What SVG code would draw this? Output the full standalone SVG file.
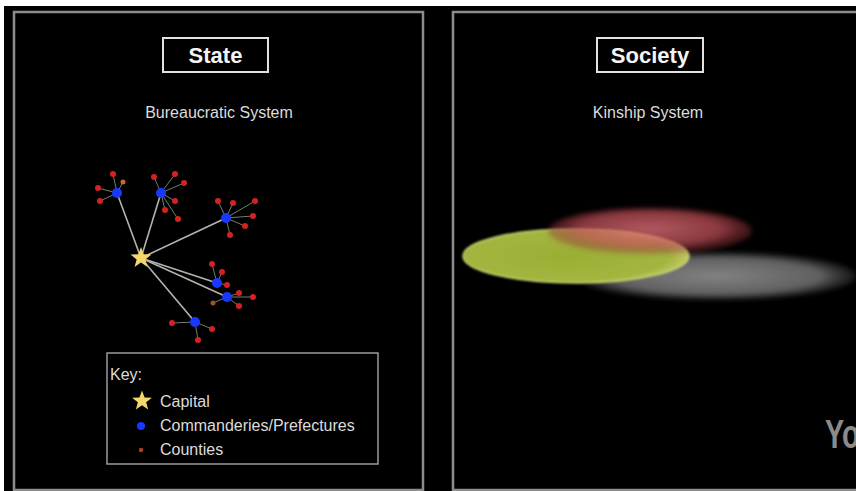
<svg xmlns="http://www.w3.org/2000/svg" width="856" height="491" viewBox="0 0 856 491">
<defs>
<style>
.panel{fill:none;stroke:#8c8c8c;stroke-width:2.5}
.tbox{fill:none;stroke:#e2e2e2;stroke-width:2}
.title{font-family:"Liberation Sans",Arial,sans-serif;font-weight:bold;font-size:22px;fill:#f4f4f4;text-anchor:middle}
.sub{font-family:"Liberation Sans",Arial,sans-serif;font-size:16px;fill:#dcdcdc;text-anchor:middle}
.key{font-family:"Liberation Sans",Arial,sans-serif;font-size:16px;fill:#dcdcdc}
.main{stroke:#b4b4ac;stroke-width:1.6}
.sec{stroke:#6f8068;stroke-width:1}
.blue{fill:#1838ff}
.red{fill:#d42222}
.star{fill:#f4d86c}
</style>
<path id="star" d="M0,-11 L2.7,-3.72 L10.46,-3.4 L4.37,1.42 L6.47,8.9 L0,4.6 L-6.47,8.9 L-4.37,1.42 L-10.46,-3.4 L-2.7,-3.72 Z"/>
<radialGradient id="gRed" cx="0.5" cy="0.45" r="0.5">
<stop offset="0" stop-color="#e07078" stop-opacity="1"/>
<stop offset="0.7" stop-color="#c05058" stop-opacity="0.9"/>
<stop offset="1" stop-color="#903038" stop-opacity="0.5"/>
</radialGradient>
<radialGradient id="gGray" cx="0.5" cy="0.5" r="0.5">
<stop offset="0" stop-color="#828282"/>
<stop offset="0.75" stop-color="#606060"/>
<stop offset="1" stop-color="#3a3a3a" stop-opacity="0.4"/>
</radialGradient>
<radialGradient id="gYel" cx="0.45" cy="0.5" r="0.55">
<stop offset="0" stop-color="#9aae34"/>
<stop offset="0.85" stop-color="#a4b640"/>
<stop offset="1" stop-color="#c2ca68"/>
</radialGradient>
<filter id="blur2" x="-20%" y="-50%" width="140%" height="200%"><feGaussianBlur stdDeviation="2.5"/></filter>
<filter id="blur1" x="-10%" y="-30%" width="120%" height="160%"><feGaussianBlur stdDeviation="0.8"/></filter>
</defs>

<rect x="0" y="0" width="856" height="491" fill="#ffffff"/>
<rect x="4" y="6" width="852" height="485" fill="#000000"/>

<g id="state-panel">
<rect class="panel" x="14" y="12" width="409" height="478"/>
<rect class="tbox" x="163" y="38" width="105" height="34"/>
<text class="title" x="215.5" y="63">State</text>
<text class="sub" x="219" y="118">Bureaucratic System</text>
</g>

<g id="society-panel">
<rect class="panel" x="453" y="12" width="410" height="478"/>
<rect class="tbox" x="597" y="38" width="106" height="34"/>
<text class="title" x="650" y="63">Society</text>
<text class="sub" x="648" y="118">Kinship System</text>
</g>

<g id="connectors">
<line class="main" x1="141" y1="258" x2="117" y2="193"/>
<line class="main" x1="141" y1="258" x2="161" y2="193"/>
<line class="main" x1="141" y1="258" x2="226" y2="218"/>
<line class="main" x1="141" y1="258" x2="217" y2="283"/>
<line class="main" x1="141" y1="258" x2="227" y2="297"/>
<line class="main" x1="141" y1="258" x2="195" y2="322"/>
<g class="sec">
<line x1="117" y1="193" x2="113" y2="174"/><line x1="117" y1="193" x2="123" y2="182"/><line x1="117" y1="193" x2="98" y2="188"/><line x1="117" y1="193" x2="100" y2="201"/>
<line x1="161" y1="193" x2="154" y2="177"/><line x1="161" y1="193" x2="175" y2="174"/><line x1="161" y1="193" x2="184" y2="183"/><line x1="161" y1="193" x2="175" y2="201"/><line x1="161" y1="193" x2="165" y2="210"/><line x1="161" y1="193" x2="178" y2="219"/>
<line x1="226" y1="218" x2="218" y2="201"/><line x1="226" y1="218" x2="233" y2="203"/><line x1="226" y1="218" x2="255" y2="201"/><line x1="226" y1="218" x2="253" y2="216"/><line x1="226" y1="218" x2="245" y2="226"/><line x1="226" y1="218" x2="230" y2="235"/>
<line x1="217" y1="283" x2="212" y2="264"/><line x1="217" y1="283" x2="222" y2="272"/><line x1="217" y1="283" x2="227" y2="285"/>
<line x1="227" y1="297" x2="239" y2="293"/><line x1="227" y1="297" x2="253" y2="297"/><line x1="227" y1="297" x2="239" y2="306"/><line x1="227" y1="297" x2="213" y2="303"/>
<line x1="195" y1="322" x2="172" y2="323"/><line x1="195" y1="322" x2="212" y2="329"/><line x1="195" y1="322" x2="198" y2="340"/>
</g>
</g>

<g id="counties" class="red">
<circle cx="113" cy="174" r="3"/><circle cx="123" cy="182" r="2.5" fill="#c86a2a"/><circle cx="98" cy="188" r="3"/><circle cx="100" cy="201" r="3"/>
<circle cx="154" cy="177" r="3"/><circle cx="175" cy="174" r="3"/><circle cx="184" cy="183" r="3"/><circle cx="175" cy="201" r="3"/><circle cx="165" cy="210" r="3"/><circle cx="178" cy="219" r="3"/>
<circle cx="218" cy="201" r="3"/><circle cx="233" cy="203" r="3"/><circle cx="255" cy="201" r="3"/><circle cx="253" cy="216" r="3"/><circle cx="245" cy="226" r="3"/><circle cx="230" cy="235" r="3"/>
<circle cx="212" cy="264" r="3"/><circle cx="222" cy="272" r="3"/><circle cx="227" cy="285" r="3"/>
<circle cx="239" cy="293" r="3"/><circle cx="253" cy="297" r="3"/><circle cx="239" cy="306" r="3"/><circle cx="213" cy="303" r="2.5" fill="#a0502a"/>
<circle cx="172" cy="323" r="3"/><circle cx="212" cy="329" r="3"/><circle cx="198" cy="340" r="3"/>
</g>

<g id="commanderies" class="blue">
<circle cx="117" cy="193" r="5"/>
<circle cx="161" cy="193" r="5"/>
<circle cx="226" cy="218" r="5"/>
<circle cx="217" cy="283" r="5"/>
<circle cx="227" cy="297" r="5"/>
<circle cx="195" cy="322" r="5"/>
</g>

<g id="capital">
<use href="#star" class="star" transform="translate(141,258)"/>
</g>

<g id="key">
<rect x="107" y="353" width="271" height="111" fill="none" stroke="#9a9a9a" stroke-width="1.5"/>
<text class="key" x="110" y="380" font-size="18">Key:</text>
<use href="#star" class="star" transform="translate(142,401) scale(0.95)"/>
<text class="key" x="160" y="407">Capital</text>
<circle class="blue" cx="141" cy="426" r="4"/>
<text class="key" x="160" y="431">Commanderies/Prefectures</text>
<circle cx="141" cy="450" r="2.2" fill="#b04020"/>
<text class="key" x="160" y="455">Counties</text>
</g>

<g id="kinship">
<ellipse cx="716" cy="276" rx="140" ry="24" fill="url(#gGray)" filter="url(#blur2)"/>
<ellipse cx="576" cy="256" rx="113" ry="27" fill="url(#gYel)" stroke="#c8d070" stroke-width="1.5" filter="url(#blur1)"/>
<ellipse cx="650" cy="231" rx="102" ry="23" fill="url(#gRed)" opacity="0.8" filter="url(#blur2)"/>
</g>

<text transform="translate(825,448) scale(0.7,1)" font-family="Liberation Sans,Arial,sans-serif" font-weight="bold" font-size="41" fill="#8a8a8a">Yo</text>
</svg>
